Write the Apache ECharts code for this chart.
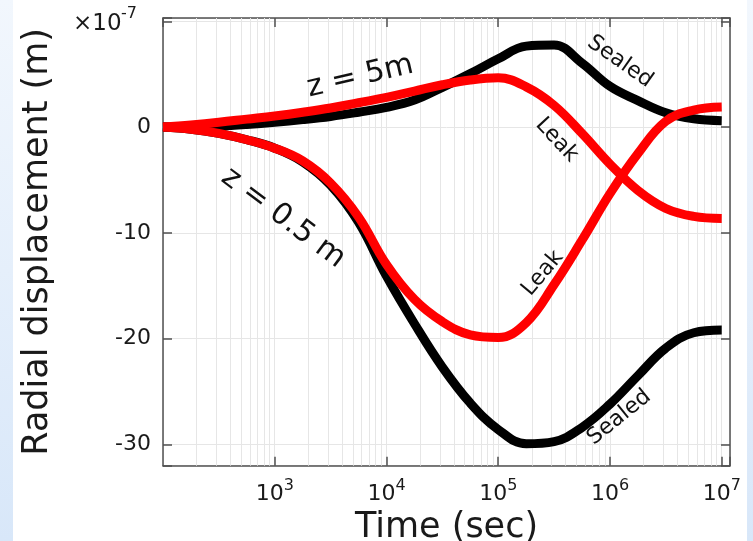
<!DOCTYPE html>
<html><head><meta charset="utf-8">
<script src="https://cdn.jsdelivr.net/npm/echarts@6/dist/echarts.min.js"></script>
<style>html,body{margin:0;padding:0;background:#fff}#c{width:753px;height:541px}</style>
</head><body><div id="c"></div>
<script>
// ---- data (radial displacement in units of 1e-7 m), time in seconds ----
const times    = [100, 178, 316, 562, 1000, 1780, 3160, 5620, 1e4, 1.78e4, 3.16e4, 5.62e4, 1e5, 1.78e5, 3.16e5, 5.62e5, 1e6, 1.78e6, 3.16e6, 5.62e6, 1e7];
const sealed5  = [0.0, 0.03, 0.1, 0.25, 0.45, 0.7, 1.0, 1.4, 1.85, 2.55, 3.75, 5.05, 6.45, 7.65, 7.75, 6.05, 3.85, 2.5, 1.35, 0.78, 0.6];
const leak5    = [0.0, 0.2, 0.45, 0.75, 1.05, 1.4, 1.8, 2.3, 2.8, 3.4, 4.0, 4.45, 4.65, 3.8, 2.05, -0.6, -3.5, -6.0, -7.7, -8.45, -8.65];
const sealed05 = [0.0, -0.2, -0.6, -1.2, -2.0, -3.3, -5.5, -9.0, -14.1, -18.6, -22.7, -26.1, -28.6, -29.95, -29.75, -28.4, -26.2, -23.5, -20.9, -19.45, -19.2];
const leak05   = [0.0, -0.2, -0.6, -1.2, -2.0, -3.2, -5.3, -8.5, -13.0, -16.3, -18.4, -19.65, -19.9, -18.5, -14.9, -10.7, -6.3, -2.5, 0.55, 1.6, 1.9];
const xTickExps = [3, 4, 5, 6, 7];
const yTickLabels = [-30, -20, -10, 0];
const minorDecades = [100, 1e3, 1e4, 1e5, 1e6, 1e7];
const minorMultipliers = [2, 3, 4, 5, 6, 7, 8, 9];

// ---- layout / style ----
const X_MIN = 100, X_MAX = 1.186e7, Y_MIN = -32.02, Y_MAX = 10.31;
const FONT = 'DejaVu Sans';
const AX = '#505050', GRID = '#e6e6e6', TXT = '#1a1a1a';
const annotations = [
  {text: 'z = 5m',    t: 5.82e3, v: 4.76,   angle: 13,    size: 30},
  {text: 'z = 0.5 m', t: 1.19e3, v: -8.6,   angle: -37,   size: 30},
  {text: 'Sealed',    t: 1.23e6, v: 6.17,   angle: -35,   size: 22},
  {text: 'Leak',      t: 3.34e5, v: -1.23,  angle: -47,   size: 22},
  {text: 'Leak',      t: 2.5e5,  v: -13.83, angle: 50,    size: 22},
  {text: 'Sealed',    t: 1.21e6, v: -27.45, angle: 39,    size: 22}
];

const chart = echarts.init(document.getElementById('c'), null, {renderer: 'canvas'});
const minorLines = [];
minorDecades.forEach(d => minorMultipliers.forEach(m => { if (d * m < X_MAX) minorLines.push({xAxis: d * m}); }));

function xFmt(v) {
  const l = Math.log10(v), e = Math.round(l);
  if (Math.abs(l - e) > 1e-6 || xTickExps.indexOf(e) < 0) return '';
  return '{b|10}{s|' + e + '}';
}
function yFmt(v) {
  const r = Math.round(v);
  if (Math.abs(v - r) > 1e-6 || yTickLabels.indexOf(r) < 0) return '';
  return String(r);
}
const tickStyle = {show: true, inside: true, length: 9, lineStyle: {color: AX, width: 1.5}};
const lineStyleAx = {show: true, onZero: false, lineStyle: {color: AX, width: 1.5}};

function mk(name, vals, color) {
  return {name, type: 'line', xAxisIndex: 0, yAxisIndex: 0,
    data: times.map((t, i) => [t, vals[i]]),
    smooth: 0.4, symbol: 'none', showSymbol: false,
    lineStyle: {color, width: 9, join: 'round'}, z: 3, animation: false, silent: true};
}

chart.setOption({
  animation: false,
  grid: {left: 163, top: 18, right: 23, bottom: 75.3, containLabel: false, outerBoundsMode: 'none'},
  xAxis: [
    {type: 'log', logBase: 10, min: X_MIN, max: X_MAX, position: 'bottom',
     axisLine: lineStyleAx, axisTick: tickStyle,
     axisLabel: {formatter: xFmt, margin: 12, showMinLabel: false,
       rich: {b: {fontSize: 22, fontFamily: FONT, color: TXT, lineHeight: 28, verticalAlign: 'bottom'},
              s: {fontSize: 16, fontFamily: FONT, color: TXT, lineHeight: 16, verticalAlign: 'top'}}},
     splitLine: {show: true, lineStyle: {color: GRID, width: 1}},
     name: 'Time (sec)', nameLocation: 'middle', nameGap: 24,
     nameTextStyle: {fontSize: 35, fontFamily: FONT, color: TXT}},
    {type: 'log', logBase: 10, min: X_MIN, max: X_MAX, position: 'top',
     axisLine: lineStyleAx, axisTick: tickStyle, axisLabel: {show: false}, splitLine: {show: false}}
  ],
  yAxis: [
    {type: 'value', min: Y_MIN, max: Y_MAX, position: 'left',
     axisLine: lineStyleAx, axisTick: tickStyle,
     axisLabel: {formatter: yFmt, margin: 12, fontSize: 22, fontFamily: FONT, color: TXT},
     splitLine: {show: true, lineStyle: {color: GRID, width: 1}},
     name: 'Radial displacement (m)', nameLocation: 'middle', nameGap: 108, nameRotate: 90,
     nameTextStyle: {fontSize: 35, fontFamily: FONT, color: TXT}},
    {type: 'value', min: Y_MIN, max: Y_MAX, position: 'right',
     axisLine: lineStyleAx, axisTick: tickStyle, axisLabel: {show: false}, splitLine: {show: false}}
  ],
  series: [
    {type: 'line', data: [], xAxisIndex: 0, yAxisIndex: 0, z: 1, silent: true,
     markLine: {z: 1, silent: true, symbol: 'none', animation: false, label: {show: false},
       emphasis: {disabled: true}, lineStyle: {color: GRID, width: 1, type: 'solid'}, data: minorLines}},
    mk('Sealed z = 5m', sealed5, '#000000'),
    mk('Sealed z = 0.5 m', sealed05, '#000000'),
    mk('Leak z = 5m', leak5, '#ff0000'),
    mk('Leak z = 0.5 m', leak05, '#ff0000')
  ]
});

const g = [
  {type: 'rect', shape: {x: 0, y: 0, width: 13, height: 541}, z: -1,
   style: {fill: new echarts.graphic.LinearGradient(0, 0, 0, 1, [{offset: 0, color: '#f2f7fd'}, {offset: 1, color: '#d8e7f9'}])}},
  {type: 'rect', shape: {x: 747, y: 0, width: 6, height: 541}, z: -1,
   style: {fill: new echarts.graphic.LinearGradient(0, 0, 0, 1, [{offset: 0, color: '#f2f7fd'}, {offset: 1, color: '#d8e7f9'}])}},
  {type: 'text', x: 73, y: 24, style: {text: '×10', fontSize: 23, fontFamily: FONT, fill: TXT, align: 'left', verticalAlign: 'middle'}},
  {type: 'text', x: 121, y: 14, style: {text: '-7', fontSize: 16, fontFamily: FONT, fill: TXT, align: 'left', verticalAlign: 'middle'}}
];
annotations.forEach(a => {
  const p = chart.convertToPixel({xAxisIndex: 0, yAxisIndex: 0}, [a.t, a.v]);
  g.push({type: 'text', x: p[0], y: p[1], rotation: a.angle * Math.PI / 180, z: 10,
    style: {text: a.text, fontSize: a.size, fontFamily: FONT, fill: '#111', align: 'center', verticalAlign: 'middle'}});
});
chart.setOption({graphic: g});
</script>
</body></html>
